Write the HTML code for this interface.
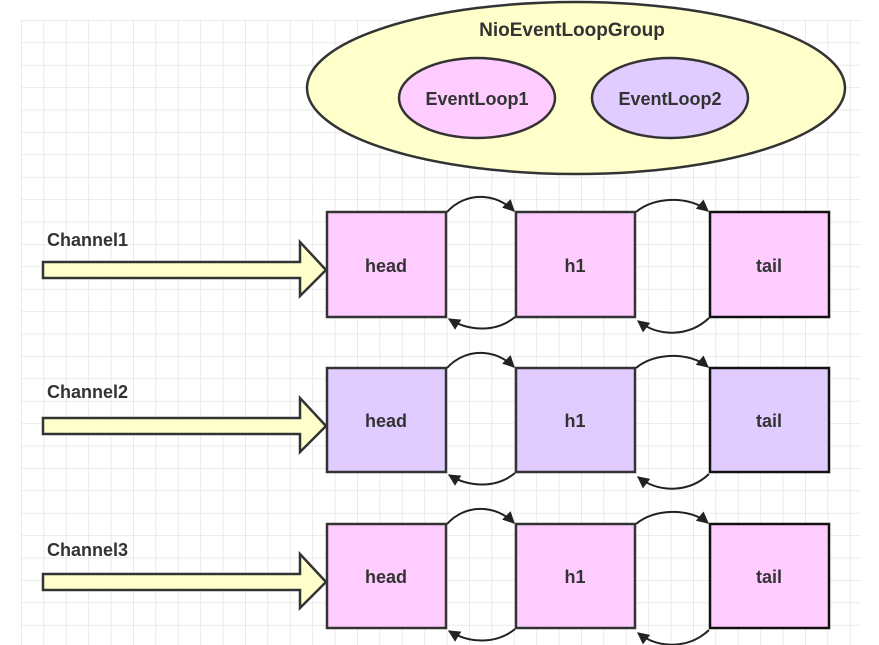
<!DOCTYPE html>
<html><head><meta charset="utf-8"><style>
html,body{margin:0;padding:0;background:#fff;}
svg{display:block;}
text{font-family:"Liberation Sans",sans-serif;font-weight:bold;fill:#333;}
</style></head><body>
<svg width="879" height="645" viewBox="0 0 879 645" xmlns="http://www.w3.org/2000/svg">
<defs>
<pattern id="g" x="21" y="20" width="22.4" height="22.4" patternUnits="userSpaceOnUse">
<path d="M0 0H22.4M0 0V22.4" stroke="#e4e4e4" stroke-width="1.5" fill="none"/>
</pattern>
<marker id="ah" viewBox="0 0 10 10" refX="9" refY="5" markerWidth="13" markerHeight="12" orient="auto" markerUnits="userSpaceOnUse">
<path d="M0 0L10 5L0 10z" fill="#222"/>
</marker>
</defs>
<rect x="21" y="20" width="840" height="625" fill="url(#g)"/>
<ellipse cx="576" cy="88" rx="269" ry="86" fill="#ffffcc" stroke="#333" stroke-width="2.5"/>
<text x="572" y="36" font-size="19" text-anchor="middle">NioEventLoopGroup</text>
<ellipse cx="477" cy="98" rx="78" ry="40" fill="#ffccff" stroke="#333" stroke-width="2.5"/>
<text x="477" y="105" font-size="18" text-anchor="middle">EventLoop1</text>
<ellipse cx="670" cy="98" rx="78" ry="40" fill="#e0ccff" stroke="#333" stroke-width="2.5"/>
<text x="670" y="105" font-size="18" text-anchor="middle">EventLoop2</text>

<g>
<text x="47" y="246" font-size="18">Channel1</text>
<path d="M43 262H300V242L326 270L300 296V278H43Z" fill="#ffffcc" stroke="#333" stroke-width="2.5"/>
<rect x="327" y="212" width="119" height="105" fill="#ffccff" stroke="#333" stroke-width="2.5"/>
<rect x="516" y="212" width="119" height="105" fill="#ffccff" stroke="#333" stroke-width="2.5"/>
<rect x="710" y="212" width="119" height="105" fill="#ffccff" stroke="#111" stroke-width="2.5"/>
<text x="386" y="272" font-size="18" text-anchor="middle">head</text>
<text x="575" y="272" font-size="18" text-anchor="middle">h1</text>
<text x="769" y="272" font-size="18" text-anchor="middle">tail</text>
<path d="M447 212C465 192 495 192 514 211" stroke="#222" stroke-width="2" fill="none" marker-end="url(#ah)"/>
<path d="M515 317C497 332 470 332 449 319" stroke="#222" stroke-width="2" fill="none" marker-end="url(#ah)"/>
<path d="M636 212C655 196 690 196 708 211" stroke="#222" stroke-width="2" fill="none" marker-end="url(#ah)"/>
<path d="M709 318C690 336 660 338 638 321" stroke="#222" stroke-width="2" fill="none" marker-end="url(#ah)"/>
</g>
<g transform="translate(0,156)">
<text x="47" y="242" font-size="18">Channel2</text>
<path d="M43 262H300V242L326 270L300 296V278H43Z" fill="#ffffcc" stroke="#333" stroke-width="2.5"/>
<rect x="327" y="212" width="119" height="104" fill="#e0ccff" stroke="#333" stroke-width="2.5"/>
<rect x="516" y="212" width="119" height="104" fill="#e0ccff" stroke="#333" stroke-width="2.5"/>
<rect x="710" y="212" width="119" height="104" fill="#e0ccff" stroke="#111" stroke-width="2.5"/>
<text x="386" y="271" font-size="18" text-anchor="middle">head</text>
<text x="575" y="271" font-size="18" text-anchor="middle">h1</text>
<text x="769" y="271" font-size="18" text-anchor="middle">tail</text>
<path d="M447 212C465 192 495 192 514 211" stroke="#222" stroke-width="2" fill="none" marker-end="url(#ah)"/>
<path d="M515 317C497 332 470 332 449 319" stroke="#222" stroke-width="2" fill="none" marker-end="url(#ah)"/>
<path d="M636 212C655 196 690 196 708 211" stroke="#222" stroke-width="2" fill="none" marker-end="url(#ah)"/>
<path d="M709 318C690 336 660 338 638 321" stroke="#222" stroke-width="2" fill="none" marker-end="url(#ah)"/>
</g>
<g transform="translate(0,312)">
<text x="47" y="244" font-size="18">Channel3</text>
<path d="M43 262H300V242L326 270L300 296V278H43Z" fill="#ffffcc" stroke="#333" stroke-width="2.5"/>
<rect x="327" y="212" width="119" height="104" fill="#ffccff" stroke="#333" stroke-width="2.5"/>
<rect x="516" y="212" width="119" height="104" fill="#ffccff" stroke="#333" stroke-width="2.5"/>
<rect x="710" y="212" width="119" height="104" fill="#ffccff" stroke="#111" stroke-width="2.5"/>
<text x="386" y="271" font-size="18" text-anchor="middle">head</text>
<text x="575" y="271" font-size="18" text-anchor="middle">h1</text>
<text x="769" y="271" font-size="18" text-anchor="middle">tail</text>
<path d="M447 212C465 192 495 192 514 211" stroke="#222" stroke-width="2" fill="none" marker-end="url(#ah)"/>
<path d="M515 317C497 332 470 332 449 319" stroke="#222" stroke-width="2" fill="none" marker-end="url(#ah)"/>
<path d="M636 212C655 196 690 196 708 211" stroke="#222" stroke-width="2" fill="none" marker-end="url(#ah)"/>
<path d="M709 318C690 336 660 338 638 321" stroke="#222" stroke-width="2" fill="none" marker-end="url(#ah)"/>
</g>
</svg>
</body></html>
